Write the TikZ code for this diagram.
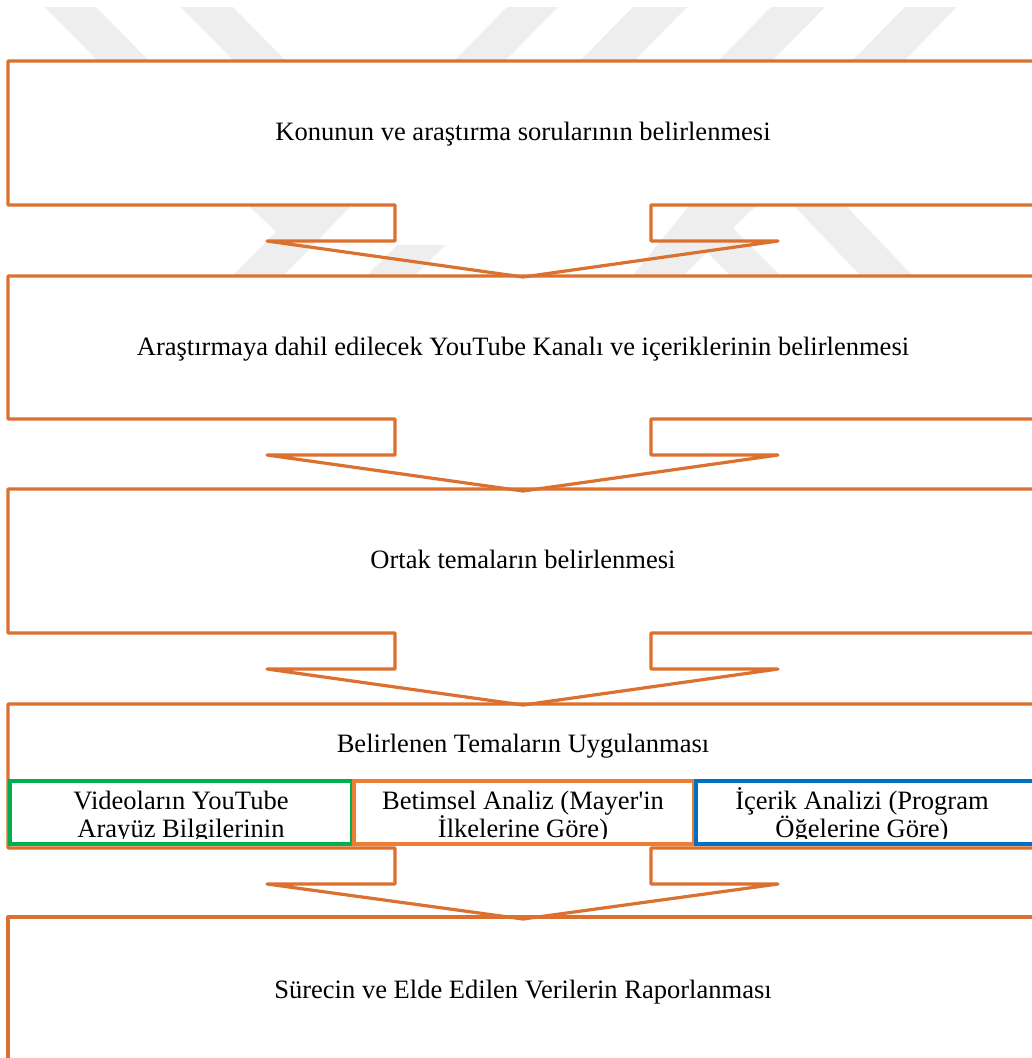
\documentclass[tikz,border=0pt]{standalone}
\usepackage{fontspec}
\setmainfont{Liberation Serif}[Ligatures=TeXOff]
\definecolor{outerc}{RGB}{220,112,46}
\definecolor{suborange}{RGB}{237,125,49}
\definecolor{subgreen}{RGB}{0,176,80}
\definecolor{subblue}{RGB}{0,112,192}
\definecolor{wm}{RGB}{238,238,238}
\newcommand\calloutbox[4]{%
  \draw[callout] (8,#2) -- (8,#1) -- (1045,#1) -- (1045,#2) -- (651,#2) -- (651,#3)
    -- (778,#3) -- (523,#4) -- (267,#3) -- (395,#3) -- (395,#2) -- cycle;}
\begin{document}
\begin{tikzpicture}[x=0.75pt,y=-0.75pt,
  callout/.style={draw=outerc,line width=2.4pt,line join=round},
  lbl/.style={font=\fontsize{19.9}{21}\selectfont,anchor=base,inner sep=0pt},
  subbox/.style={line width=3.4pt,line join=miter,fill=white}]
\useasboundingbox (0,0) rectangle (1032,1058);
\clip (0,0) rectangle (1032,1058);
\fill[white] (0,0) rectangle (1032,1058);
% faint watermark
\begin{scope}[fill=wm]
  \fill (45,7) -- (96,7) -- (149,61) -- (98,61) -- cycle;
  \fill (181,7) -- (233,7) -- (286,61) -- (234,61) -- cycle;
  \fill (507,7) -- (558,7) -- (505,61) -- (454,61) -- cycle;
  \fill (633,7) -- (687,7) -- (634,61) -- (580,61) -- cycle;
  \fill (771,7) -- (825,7) -- (772,61) -- (718,61) -- cycle;
  \fill (905,7) -- (957,7) -- (904,61) -- (852,61) -- cycle;
  \fill (248,205) -- (352,205) -- (284,275) -- (233,275) -- (276,232) -- cycle;
  \fill (397,245) -- (445,245) -- (415,275) -- (367,275) -- cycle;
  \fill (690,205) -- (757,205) -- (733,228) -- (780,275) -- (730,275) -- (707,252)
        -- (684,275) -- (633,275) -- cycle;
  \fill (793,205) -- (845,205) -- (912,275) -- (860,275) -- cycle;
\end{scope}
% white box bodies
\fill[white] (8,61) rectangle (1045,205);
\fill[white] (8,276) rectangle (1045,419);
\fill[white] (8,489) rectangle (1045,633);
\fill[white] (8,704) rectangle (1045,848);
\fill[white] (8,917) rectangle (1045,1080);
% outlines with block arrows
\calloutbox{61}{205}{241}{277}
\calloutbox{276}{419}{455}{491}
\calloutbox{489}{633}{669}{705}
\calloutbox{704}{848}{884}{919}
\draw[callout] (8,1080) -- (8,917) -- (1045,917);
% texts
\node[lbl] (t1) at (523,140) {Konunun ve araştırma sorularının belirlenmesi};
\node[lbl] (t2) at (523,355) {Araştırmaya dahil edilecek YouTube Kanalı ve içeriklerinin belirlenmesi};
\node[lbl] (t3) at (523,568) {Ortak temaların belirlenmesi};
\node[lbl] (t4) at (523,752) {Belirlenen Temaların Uygulanması};
\node[lbl] (t5) at (523,998) {Sürecin ve Elde Edilen Verilerin Raporlanması};
% sub boxes
\draw[subbox,draw=subgreen] (10,781) rectangle (352,844);
\draw[subbox,draw=suborange] (354,781) rectangle (694,844);
\draw[subbox,draw=subblue] (696,781) rectangle (1045,844);
\begin{scope}
  \clip (0,784) rectangle (1032,838.5);
  \node[lbl] (s1a) at (181,809) {Videoların YouTube};
  \node[lbl] (s1b) at (181,837) {Arayüz Bilgilerinin};
  \node[lbl] (s2a) at (523,809) {Betimsel Analiz (Mayer'in};
  \node[lbl] (s2b) at (523,837) {İlkelerine Göre)};
  \node[lbl] (s3a) at (862,809) {İçerik Analizi (Program};
  \node[lbl] (s3b) at (862,837) {Öğelerine Göre)};
\end{scope}
\end{tikzpicture}
\end{document}
